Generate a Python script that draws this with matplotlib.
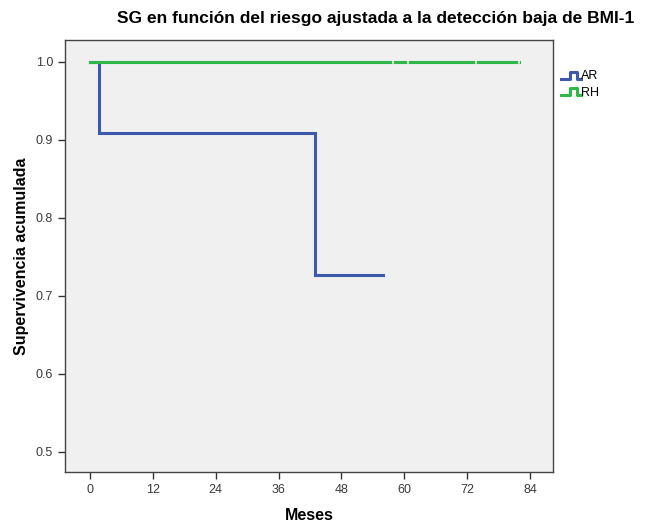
import matplotlib
matplotlib.use('Agg')
import matplotlib.pyplot as plt
from matplotlib.legend_handler import HandlerBase
from matplotlib.lines import Line2D
import numpy as np

plt.rcParams['font.family'] = ['Liberation Sans', 'DejaVu Sans']

# Kaplan-Meier steps
ar_t = [0, 1.7, 1.7, 43, 43, 56]
ar_s = [1.0, 1.0, 0.909, 0.909, 0.727, 0.727]
rh_t = [0, 82]
rh_s = [1.0, 1.0]
rh_cens = [57.8, 60.8, 73.7, 81.9]

groups = ['AR', 'RH']
colors = ['#3e58ac', '#2eb848']
xticks = [0, 12, 24, 36, 48, 60, 72, 84]
yticks = [0.5, 0.6, 0.7, 0.8, 0.9, 1.0]


class StepHandler(HandlerBase):
    def create_artists(self, legend, orig, xd, yd, w, h, fontsize, trans):
        xs = np.array([0, 0.45, 0.45, 0.8, 0.8, 1.0]) * w - xd
        ys = np.array([0.1, 0.1, 0.9, 0.9, 0.1, 0.1]) * h - yd
        ln = Line2D(xs, ys, color=orig.get_color(), lw=2.2, transform=trans)
        return [ln]


fig = plt.figure(figsize=(6.49, 5.24), dpi=100)
ax = fig.add_axes([65 / 649, 1 - 472 / 524, (553 - 65) / 649, (472 - 40) / 524])
ax.set_facecolor('#f0f0f0')

l1, = ax.plot(ar_t, ar_s, color=colors[0], lw=2.2, solid_joinstyle='miter')
l2, = ax.plot(rh_t, rh_s, color=colors[1], lw=2.2)
for c in rh_cens:
    ax.plot([c, c], [0.9985, 1.0015], color='#f4f4f4', lw=1.2)

ax.set_xlim(-4.77, 88.4)
ax.set_ylim(0.474, 1.028)
ax.set_xticks(xticks)
ax.set_yticks(yticks)
ax.set_yticklabels([f'{v:.1f}' for v in yticks])
ax.tick_params(labelsize=9, labelcolor='#3a3a3a', length=5, width=1, color='#333333')
for s in ax.spines.values():
    s.set_color('#444444')
    s.set_linewidth(1)

ax.set_xlabel('Meses', fontsize=11.5, fontweight='bold', labelpad=9)
ax.set_ylabel('Supervivencia acumulada', fontsize=11.5, fontweight='bold', labelpad=5)

fig.text(376 / 649, 1 - 18 / 524, 'SG en función del riesgo ajustada a la detección baja de BMI-1',
         ha='center', va='center', fontsize=12.5, fontweight='bold')

leg = ax.legend([l1, l2], groups, loc='upper left', bbox_to_anchor=(1.003, 0.944),
                frameon=False, handler_map={Line2D: StepHandler()},
                handlelength=1.6, handletextpad=0.05, labelspacing=0.35, fontsize=9,
                borderaxespad=0.1)

fig.savefig('out.png', dpi=100)
